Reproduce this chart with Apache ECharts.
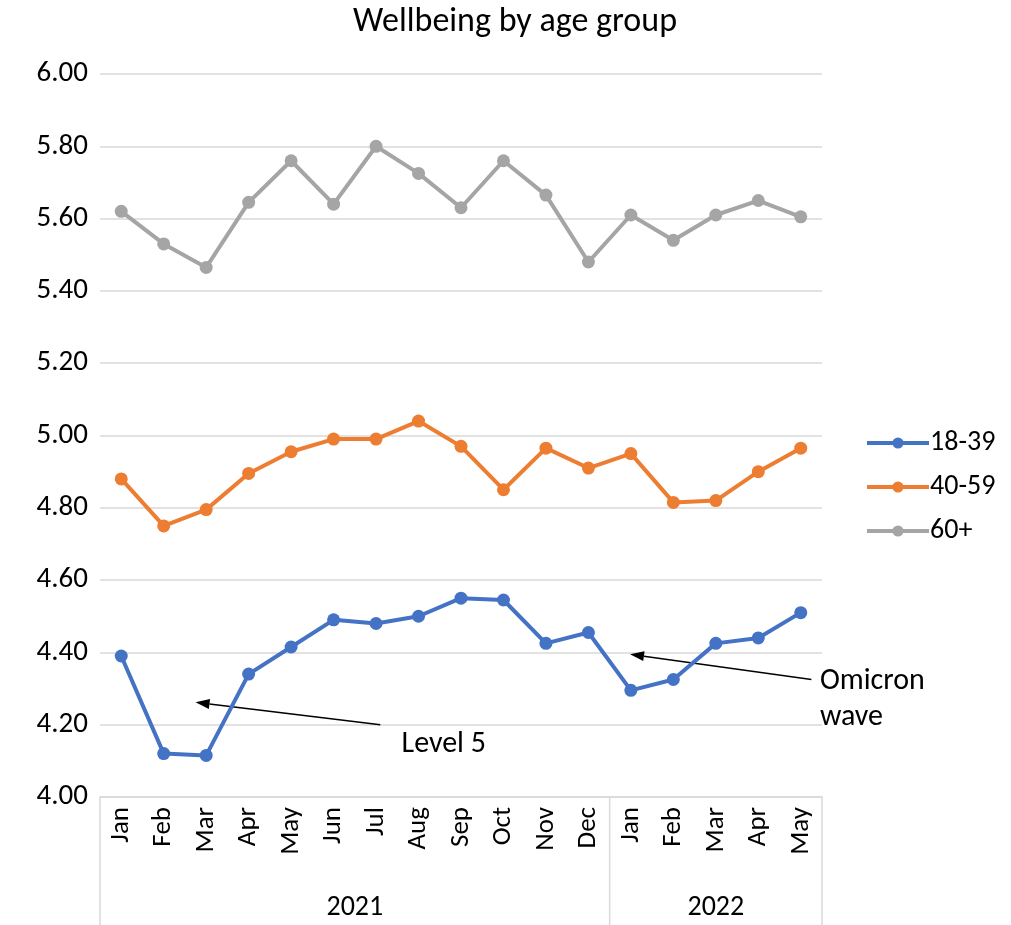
<!DOCTYPE html>
<html><head><meta charset="utf-8">
<script src="https://cdn.jsdelivr.net/npm/echarts@6/dist/echarts.min.js"></script>
<style>html,body{margin:0;background:#fff}#container{width:1011px;height:925px}</style>
</head><body><div id="container"></div>
<script>
var months = ['Jan','Feb','Mar','Apr','May','Jun','Jul','Aug','Sep','Oct','Nov','Dec','Jan','Feb','Mar','Apr','May'];
var years = [{name: '2021', count: 12}, {name: '2022', count: 5}];
var age1839 = [4.39, 4.12, 4.115, 4.34, 4.415, 4.49, 4.48, 4.50, 4.55, 4.545, 4.425, 4.455, 4.295, 4.325, 4.425, 4.44, 4.51];
var age4059 = [4.88, 4.75, 4.795, 4.895, 4.955, 4.99, 4.99, 5.04, 4.97, 4.85, 4.965, 4.91, 4.95, 4.815, 4.82, 4.90, 4.965];
var age60 = [5.62, 5.53, 5.465, 5.645, 5.76, 5.64, 5.80, 5.725, 5.63, 5.76, 5.665, 5.48, 5.61, 5.54, 5.61, 5.65, 5.605];
// annotations: [fromIndex, fromValue, toIndex, toValue]
var notes = [
  {text: 'Level 5', from: [6.1, 4.2], to: [1.75, 4.262], label: [6.6, 4.195]},
  {text: 'Omicron\nwave', from: [16.25, 4.325], to: [11.98, 4.395], label: [16.45, 4.37]}
];

var dom = document.getElementById('container');
var myChart = echarts.init(dom, null, {renderer: 'canvas'});
var font = 'Calibri, Carlito, "Open Sans", sans-serif';

function mkSeries(name, data, color) {
  return {name: name, type: 'line', data: data, symbol: 'circle', symbolSize: 13,
    lineStyle: {width: 4, color: color}, itemStyle: {color: color}};
}

var option = {
  animation: false,
  textStyle: {fontFamily: font},
  title: {text: 'Wellbeing by age group', left: 510, top: 0, textAlign: 'center',
    textStyle: {fontSize: 34, fontWeight: 'normal', color: '#000', fontFamily: font}},
  grid: {left: 100, right: 189, top: 74, bottom: 128},
  legend: {orient: 'vertical', left: 860, top: 424, itemGap: 16, itemWidth: 62, itemHeight: 14,
    lineStyle: {width: 4}, textStyle: {fontSize: 28, color: '#000', padding: [0, 0, 0, -4]}},
  xAxis: {type: 'category', data: months, boundaryGap: true,
    axisLine: {lineStyle: {color: '#d9d9d9', width: 1.5}}, axisTick: {show: false},
    axisLabel: {rotate: 90, fontSize: 27, color: '#000', margin: 10, interval: 0}},
  yAxis: {type: 'value', min: 4, max: 6, interval: 0.2,
    axisLabel: {formatter: function (v) { return v.toFixed(2); }, fontSize: 29, color: '#000', margin: 12},
    splitLine: {lineStyle: {color: '#d9d9d9', width: 1.5}}},
  series: [mkSeries('18-39', age1839, '#4472c4'), mkSeries('40-59', age4059, '#ed7d31'), mkSeries('60+', age60, '#a5a5a5')]
};
myChart.setOption(option);

function px(idx, val) {
  var a = myChart.convertToPixel({gridIndex: 0}, [0, val]);
  var b = myChart.convertToPixel({gridIndex: 0}, [1, val]);
  return [a[0] + (b[0] - a[0]) * idx, a[1]];
}
var g = [];
var x0 = px(-0.5, 4)[0], yb = px(0, 4)[1];
var pos = -0.5;
g.push({type: 'line', shape: {x1: x0, y1: yb, x2: x0, y2: 925}, style: {stroke: '#d9d9d9', lineWidth: 1.5}});
years.forEach(function (y) {
  var xs = px(pos, 4)[0], xe = px(pos + y.count, 4)[0];
  g.push({type: 'line', shape: {x1: xe, y1: yb, x2: xe, y2: 925}, style: {stroke: '#d9d9d9', lineWidth: 1.5}});
  g.push({type: 'text', x: (xs + xe) / 2, y: 908, style: {text: y.name, fontSize: 28, fill: '#000', align: 'center', verticalAlign: 'middle', fontFamily: font}});
  pos += y.count;
});
notes.forEach(function (n) {
  var f = px(n.from[0], n.from[1]), t = px(n.to[0], n.to[1]), l = px(n.label[0], n.label[1]);
  var ang = Math.atan2(t[1] - f[1], t[0] - f[0]), h = 14, w = 5;
  var bx = t[0] - h * Math.cos(ang), by = t[1] - h * Math.sin(ang);
  g.push({type: 'line', shape: {x1: f[0], y1: f[1], x2: bx, y2: by}, style: {stroke: '#000', lineWidth: 1.5}});
  g.push({type: 'polygon', shape: {points: [t, [bx + w * Math.sin(ang), by - w * Math.cos(ang)], [bx - w * Math.sin(ang), by + w * Math.cos(ang)]]}, style: {fill: '#000'}});
  g.push({type: 'text', x: l[0], y: l[1], style: {text: n.text, fontSize: 30, lineHeight: 36, fill: '#000', fontFamily: font}});
});
myChart.setOption({graphic: g});
</script></body></html>
